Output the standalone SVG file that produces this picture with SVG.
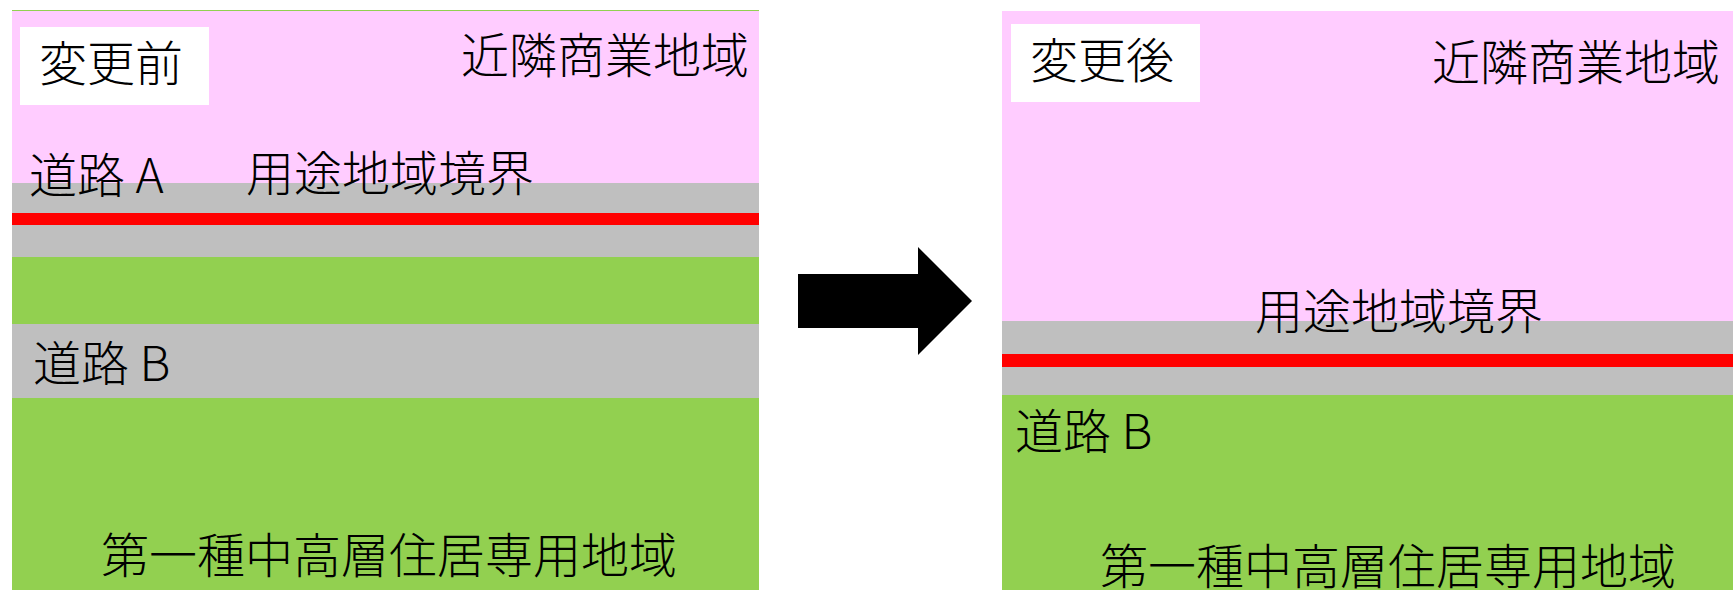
<svg xmlns="http://www.w3.org/2000/svg" width="1733" height="590" viewBox="0 0 1733 590">
<style>
.t{font-family:"Noto Sans CJK JP","Noto Sans CJK SC",sans-serif;font-size:48px;font-weight:300;fill:#000}
.pink{fill:#FFCCFF}
.gray{fill:#BFBFBF}
.red{fill:#FF0000}
.green{fill:#92D050}
.white{fill:#FFFFFF}
</style>
<rect width="1733" height="590" fill="#FFFFFF"/>
<g id="before">
<rect class="green" x="12" y="10" width="747" height="580"/>
<rect class="pink" x="12" y="11" width="747" height="172"/>
<rect class="gray" x="12" y="183" width="747" height="74"/>
<rect class="red" x="12" y="213" width="747" height="12"/>
<rect class="gray" x="12" y="324" width="747" height="74"/>
<rect class="white" x="20" y="27" width="189" height="78"/>
<text class="t" x="39" y="81">変更前</text>
<text class="t" x="461" y="73">近隣商業地域</text>
<text class="t" x="29" y="193">道路 A</text>
<text class="t" x="246" y="191">用途地域境界</text>
<text class="t" x="33" y="381">道路 B</text>
<text class="t" x="101" y="573">第一種中高層住居専用地域</text>
</g>
<g id="connectors">
<path d="M798,274 H918 V247 L972,301 L918,355 V328 H798 Z" fill="#000000"/>
</g>
<g id="after">
<rect class="green" x="1002" y="11" width="731" height="579"/>
<rect class="pink" x="1002" y="11" width="731" height="310"/>
<rect class="gray" x="1002" y="321" width="731" height="74"/>
<rect class="red" x="1002" y="354" width="731" height="13"/>
<rect class="white" x="1011" y="24" width="189" height="78"/>
<text class="t" x="1030" y="78">変更後</text>
<text class="t" x="1432" y="80">近隣商業地域</text>
<text class="t" x="1255" y="329">用途地域境界</text>
<text class="t" x="1015" y="449">道路 B</text>
<text class="t" x="1100" y="584">第一種中高層住居専用地域</text>
</g>
</svg>
